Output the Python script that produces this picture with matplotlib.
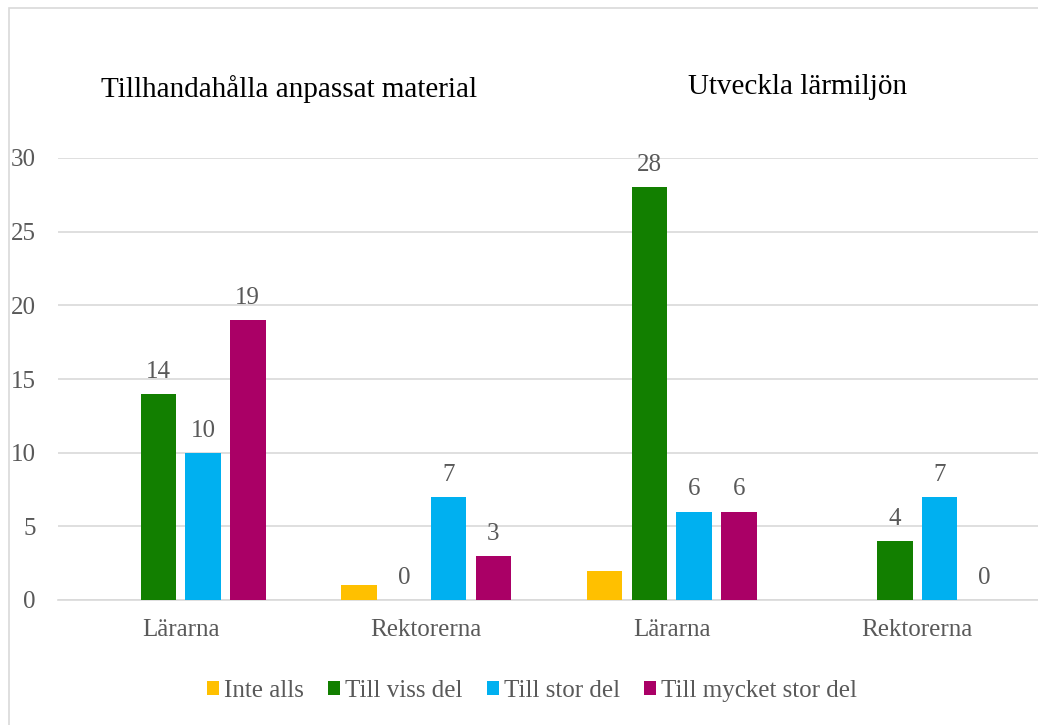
import matplotlib
matplotlib.use("Agg")
import matplotlib.pyplot as plt
import numpy as np
from matplotlib.patches import Rectangle

categories = ["Lärarna", "Rektorerna", "Lärarna", "Rektorerna"]
series_names = ["Inte alls", "Till viss del", "Till stor del", "Till mycket stor del"]
inte_alls = [None, 1, 2, None]
till_viss_del = [14, 0, 28, 4]
till_stor_del = [10, 7, 6, 7]
till_mycket_stor_del = [19, 3, 6, 0]
show_labels = [False, True, True, True]
colors = ["#FFC000", "#127F00", "#00B0F0", "#AA0066"]
panel_titles = ["Tillhandahålla anpassat material", "Utveckla lärmiljön"]
yticks = [0, 5, 10, 15, 20, 25, 30]

W, H = 1038, 725
fig = plt.figure(figsize=(W / 100, H / 100), dpi=100)
plt.rcParams['font.family'] = ['Liberation Serif', 'DejaVu Serif']

left_px, right_px = 58, 1040
bot_px, top_px = 600, 158
ax = fig.add_axes([left_px / W, 1 - bot_px / H, (right_px - left_px) / W, (bot_px - top_px) / H])

all_series = [inte_alls, till_viss_del, till_stor_del, till_mycket_stor_del]
x = np.arange(len(categories))
step = 0.182
width = 0.1445
offsets = (np.arange(4) - 1.5) * step
grey = "#595959"
fs = 18

for si, (vals, col, name) in enumerate(zip(all_series, colors, series_names)):
    xs, hs = [], []
    for ci, v in enumerate(vals):
        if v is None:
            continue
        xs.append(x[ci] + offsets[si])
        hs.append(v)
    ax.bar(xs, hs, width=width, color=col, label=name, zorder=3)
    if show_labels[si]:
        for xi, hi in zip(xs, hs):
            ax.annotate(str(hi), (xi, hi), xytext=(0, 8), textcoords="offset points",
                        ha="center", va="bottom", fontsize=fs, color=grey)

ax.set_xlim(-0.5, len(categories) - 0.5)
ax.set_ylim(0, 30)
ax.set_yticks(yticks)
ax.set_yticklabels([str(t) for t in yticks], fontsize=fs, color=grey)
ax.set_xticks(x)
ax.set_xticklabels(categories, fontsize=fs, color=grey)
ax.tick_params(axis="both", length=0)
ax.tick_params(axis="y", pad=16)
ax.tick_params(axis="x", pad=14)
ax.grid(axis="y", color="#d9d9d9", linewidth=1.2, zorder=0)
for s in ["top", "right", "left"]:
    ax.spines[s].set_visible(False)
ax.spines["bottom"].set_color("#d9d9d9")
ax.spines["bottom"].set_linewidth(1.2)

fig.text(289 / W, 1 - 89 / H, panel_titles[0], ha="center", va="center", fontsize=21, color="black")
fig.text(798 / W, 1 - 87 / H, panel_titles[1], ha="center", va="center", fontsize=21, color="black")

handles, labels = ax.get_legend_handles_labels()
leg = fig.legend(handles, labels, loc="center", bbox_to_anchor=(532 / W, 1 - 691 / H), ncol=4,
                 frameon=False, fontsize=fs, handlelength=0.5, handleheight=0.5,
                 handletextpad=0.2, columnspacing=0.95)
for t in leg.get_texts():
    t.set_color(grey)

fig.patches.append(Rectangle((9 / W, -0.1), 1.2, 1 - 8 / H + 0.1, transform=fig.transFigure,
                             fill=False, edgecolor="#d9d9d9", linewidth=1.2))

fig.savefig("out.png", dpi=100)
